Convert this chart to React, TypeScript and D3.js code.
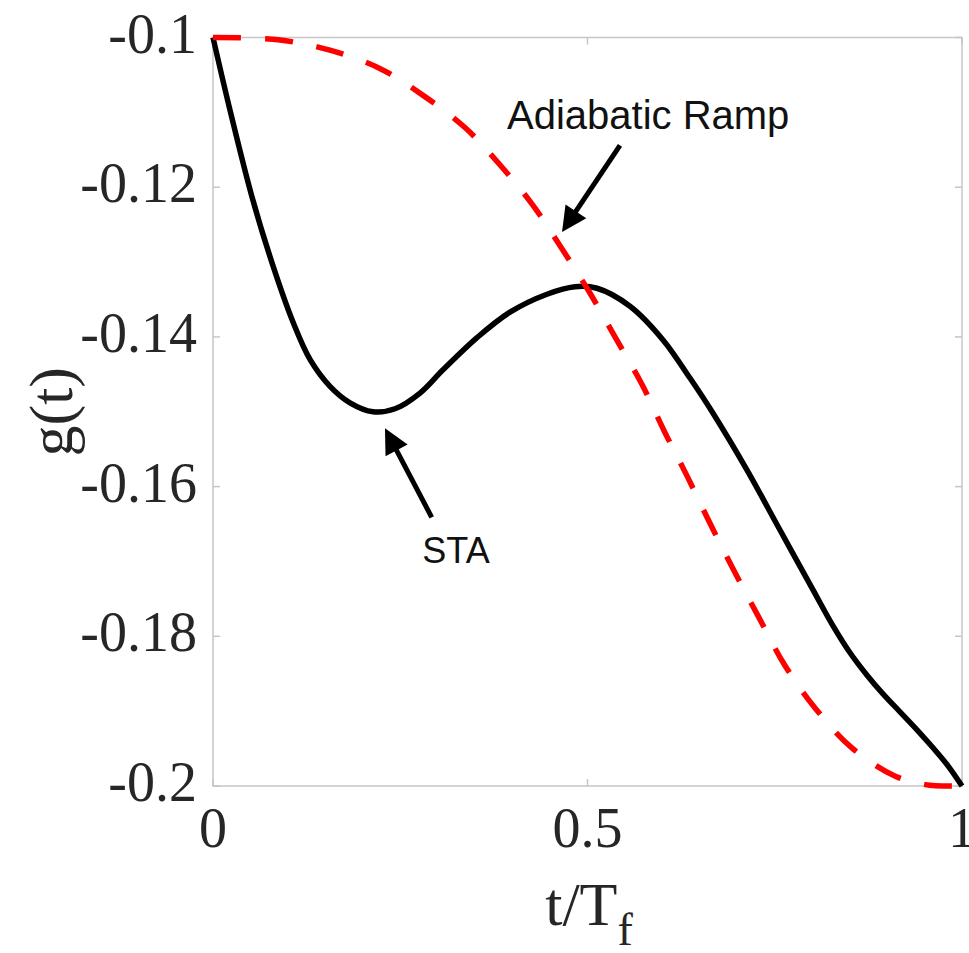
import React from "react";
import * as d3 from "d3";

// Adiabatic ramp (red dashed)
const rampT = [0, 0.087, 0.156, 0.222, 0.28, 0.336, 0.383, 0.427, 0.467, 0.503, 0.539, 0.573, 0.603, 0.634, 0.666, 0.697, 0.73, 0.763, 0.804, 0.853, 0.911, 0.957, 0.98, 1];
const rampG = [-0.1, -0.1003, -0.1017, -0.1041, -0.1077, -0.112, -0.117, -0.1224, -0.1284, -0.1341, -0.1404, -0.1464, -0.1527, -0.1588, -0.1654, -0.1715, -0.1777, -0.1838, -0.1896, -0.1949, -0.1987, -0.1999, -0.2, -0.2];

// STA (black solid)
const staT = [0, 0.0227, 0.0521, 0.0788, 0.1068, 0.1295, 0.1562, 0.1829, 0.2136, 0.243, 0.2764, 0.3071, 0.3525, 0.3965, 0.4459, 0.4833, 0.5127, 0.5567, 0.6008, 0.6368, 0.6676, 0.713, 0.757, 0.8011, 0.8278, 0.8505, 0.8732, 0.8945, 0.9172, 0.9399, 0.9613, 0.9813, 1];
const staG = [-0.1, -0.1097, -0.1213, -0.1301, -0.138, -0.143, -0.1466, -0.1488, -0.15, -0.1496, -0.1475, -0.1444, -0.1401, -0.1367, -0.1343, -0.1333, -0.1335, -0.1359, -0.1404, -0.1455, -0.1502, -0.1578, -0.1658, -0.1738, -0.1786, -0.1822, -0.1852, -0.1877, -0.1901, -0.1925, -0.1949, -0.1973, -0.2];

const xTicks = [0, 0.5, 1];
const xTickLabels = ["0", "0.5", "1"];
const yTicks = [-0.1, -0.12, -0.14, -0.16, -0.18, -0.2];
const yTickLabels = ["-0.1", "-0.12", "-0.14", "-0.16", "-0.18", "-0.2"];

// annotations: [text, textT, textG, tailT, tailG, tipT, tipG]
const annotations: [string, number, number, number, number, number, number][] = [
  ["Adiabatic Ramp", 0.3925, -0.1122, 0.5434, -0.1144, 0.466, -0.126],
  ["STA", 0.3244, -0.1702, 0.292, -0.1641, 0.2296, -0.1522],
];

const W = 969;
const H = 953;
const L = 213, R = 962, T = 37.5, B = 786;

export default function App() {
  const x = d3.scaleLinear().domain([0, 1]).range([L, R]);
  const y = d3.scaleLinear().domain([-0.2, -0.1]).range([B, T]);
  const line = d3
    .line<[number, number]>()
    .x((d) => x(d[0]))
    .y((d) => y(d[1]))
    .curve(d3.curveCatmullRom.alpha(0.5));
  const ramp = rampT.map((t, i) => [t, rampG[i]] as [number, number]);
  const sta = staT.map((t, i) => [t, staG[i]] as [number, number]);
  const gray = "#c6c6c6";
  const tickLen = 7;
  const serif = "'Liberation Serif', 'Times New Roman', serif";
  const sans = "'Liberation Sans', Arial, sans-serif";

  const arrows = annotations.map(([label, tx, ty, t0, g0, t1, g1], i) => {
    const x0 = x(t0), y0 = y(g0), x1 = x(t1), y1 = y(g1);
    const dx = x1 - x0, dy = y1 - y0;
    const len = Math.hypot(dx, dy);
    const ux = dx / len, uy = dy / len;
    const hl = 25, hw = 12.5;
    const bx = x1 - ux * hl, by = y1 - uy * hl;
    const px = -uy, py = ux;
    const head = `M${x1},${y1}L${bx + px * hw},${by + py * hw}L${bx - px * hw},${by - py * hw}Z`;
    return (
      <g key={i}>
        <line x1={x0} y1={y0} x2={bx + ux * 2} y2={by + uy * 2} stroke="#000" strokeWidth={5} />
        <path d={head} fill="#000" />
        <text
          x={x(tx)}
          y={y(ty)}
          fontFamily={sans}
          fontSize={label === "STA" ? 36 : 40}
          textAnchor={label === "STA" ? "middle" : "start"}
          fill="#111"
        >
          {label}
        </text>
      </g>
    );
  });

  return (
    <svg width={W} height={H} style={{ position: "absolute", left: 0, top: 0, background: "#fff" }}>
      <rect x={0} y={0} width={W} height={H} fill="#fff" />
      {/* frame */}
      <rect x={L} y={T} width={R - L} height={B - T} fill="none" stroke={gray} strokeWidth={1.5} />
      {/* ticks */}
      {yTicks.map((v, i) => (
        <g key={"yt" + i}>
          <line x1={L} x2={L + tickLen} y1={y(v)} y2={y(v)} stroke={gray} strokeWidth={1.5} />
          <line x1={R} x2={R - tickLen} y1={y(v)} y2={y(v)} stroke={gray} strokeWidth={1.5} />
          <text x={197} y={y(v) + 15} textAnchor="end" fontFamily={serif} fontSize={56} fill="#262626">
            {yTickLabels[i]}
          </text>
        </g>
      ))}
      {xTicks.map((v, i) => (
        <g key={"xt" + i}>
          <line x1={x(v)} x2={x(v)} y1={B} y2={B - tickLen} stroke={gray} strokeWidth={1.5} />
          <line x1={x(v)} x2={x(v)} y1={T} y2={T + tickLen} stroke={gray} strokeWidth={1.5} />
          <text x={x(v)} y={847} textAnchor="middle" fontFamily={serif} fontSize={56} fill="#262626">
            {xTickLabels[i]}
          </text>
        </g>
      ))}
      {/* axis labels */}
      <text x={589} y={925} textAnchor="middle" fontFamily={serif} fontSize={62} fill="#262626">
        t/T
        <tspan fontSize={46} dy={20}>f</tspan>
      </text>
      <text
        transform={`translate(72,${(T + B) / 2}) rotate(-90)`}
        textAnchor="middle"
        fontFamily={serif}
        fontSize={62}
        fill="#262626"
      >
        g(t)
      </text>
      {/* curves */}
      <path d={line(sta) || ""} fill="none" stroke="#000" strokeWidth={5.5} strokeLinejoin="round" />
      <path d={line(ramp) || ""} fill="none" stroke="#ff0000" strokeWidth={5.5} strokeDasharray="28,24" />
      {arrows}
    </svg>
  );
}
